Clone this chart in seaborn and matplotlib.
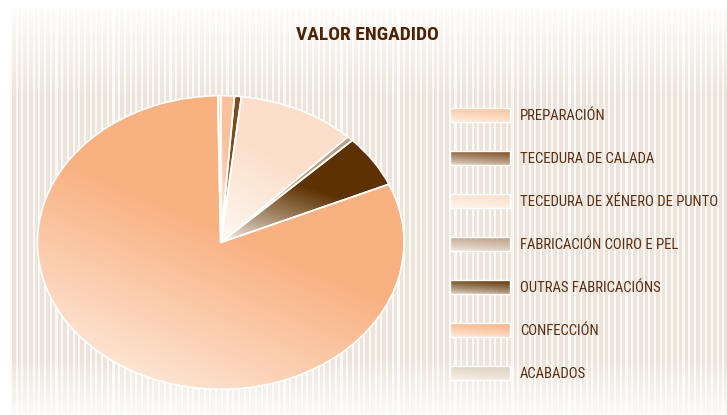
import numpy as np
import matplotlib.pyplot as plt
import seaborn as sns
from matplotlib import font_manager

categories = [
    "PREPARACIÓN",
    "TECEDURA DE CALADA",
    "TECEDURA DE XÉNERO DE PUNTO",
    "FABRICACIÓN COIRO E PEL",
    "OUTRAS FABRICACIÓNS",
    "CONFECCIÓN",
    "ACABADOS",
]
values = [1.2, 0.6, 10.4, 0.55, 5.75, 81.25, 0.25]
colors = ["#FAC29C", "#7B4D22", "#FBDFCA", "#BBA085", "#5E3200", "#F9B182", "#DCCFC0"]

title = "VALOR ENGADIDO"

sns.set_theme(style="white")

# a narrow face if one is there, else a smaller Liberation Sans
installed = {f.name for f in font_manager.fontManager.ttflist}
narrow = [n for n in ["Liberation Sans Narrow", "Roboto Condensed"] if n in installed]
if narrow:
    plt.rcParams["font.family"] = [narrow[0], "DejaVu Sans"]
    leg_size, title_size = 10.6, 14
else:
    plt.rcParams["font.family"] = ["Liberation Sans", "DejaVu Sans"]
    leg_size, title_size = 8.3, 12.3

W, H = 727, 415
fig = plt.figure(figsize=(W / 100, H / 100), dpi=100)
fig.patch.set_facecolor("white")

# background with vertical stripes, fading at top and bottom
bg = fig.add_axes([0, 0, 1, 1])
bg.axis("off")

xs = np.arange(W)
ys = np.arange(H)
stripe = ((xs % 5.7) < 3.6).astype(float)
col_stripe = np.array([0.929, 0.898, 0.859])
col_gap = np.array([0.988, 0.980, 0.969])
row = col_gap[None, :] * (1 - stripe[:, None]) + col_stripe[None, :] * stripe[:, None]
alpha = np.ones(H)
alpha[ys < 8] = 0
top = (ys >= 8) & (ys < 95)
alpha[top] = 0.1 + 0.9 * (ys[top] - 8) / 87
bot = ys > 360
alpha[bot] = 1 - 0.85 * (ys[bot] - 360) / 55
mask_x = (xs >= 10).astype(float)
a = alpha[:, None, None] * mask_x[None, :, None]
img = np.ones((H, W, 3)) * (1 - a) + row[None, :, :] * a
bg.imshow(img, extent=(0, W, H, 0), aspect="auto", zorder=0, interpolation="nearest")

# gradient helper: light at lower-left, full colour at upper-right
def grad_array(n=200, ku=0.54, mid=0.53, gamma=0.85):
    u = np.linspace(0, 1, n)[None, :]
    v = np.linspace(0, 1, n)[:, None]
    s = (ku * u + v) / (1 + ku)
    return np.clip(s / mid, 0, 1) ** gamma

light = "#FFFAF5"

# pie (elliptical, drawn in a non-equal aspect axes)
rx, ry, cx, cy, pad = 183.3, 146.8, 220.7, 242.5, 1.1
ax = fig.add_axes([(cx - rx * pad) / W, (H - cy - ry * pad) / H,
                   2 * rx * pad / W, 2 * ry * pad / H])
wedges, _ = ax.pie(values, colors=colors, startangle=90, counterclock=False,
                   wedgeprops=dict(edgecolor="white", linewidth=1.2))
g = grad_array()
for w, c in zip(wedges, colors):
    bb = w.get_path().get_extents()
    cmap = sns.blend_palette([light, c], as_cmap=True)
    im = ax.imshow(g, extent=(bb.x0, bb.x1, bb.y0, bb.y1), origin="lower",
                   cmap=cmap, vmin=0, vmax=1, zorder=1, interpolation="bilinear")
    im.set_clip_path(w)
    w.set_facecolor("none")
    w.set_zorder(2)
ax.set_aspect("auto")
ax.set_xlim(-pad, pad)
ax.set_ylim(-pad, pad)
ax.axis("off")

# legend
gl = grad_array(60, ku=0.3, mid=1.0, gamma=0.8) * 0.85 + 0.15
for i, (name, c) in enumerate(zip(categories, colors)):
    y = 115 + i * 43
    cmap = sns.blend_palette([light, c], as_cmap=True)
    bg.imshow(gl, extent=(450, 510, y + 7, y - 7), origin="lower", cmap=cmap,
              vmin=0, vmax=1, aspect="auto", zorder=2)
    bg.add_patch(plt.Rectangle((450, y - 7), 60, 14, fill=False,
                               edgecolor="white", linewidth=1, zorder=3))
    bg.text(520, y + 0.5, name, ha="left", va="center", fontsize=leg_size,
            color="#5A2E10", zorder=3)
bg.set_xlim(0, W)
bg.set_ylim(H, 0)

fig.text(367 / W, 1 - 35 / H, title, ha="center", va="center",
         fontsize=title_size, fontweight="bold", color="#4E2200")

fig.savefig("out.png", dpi=100)
